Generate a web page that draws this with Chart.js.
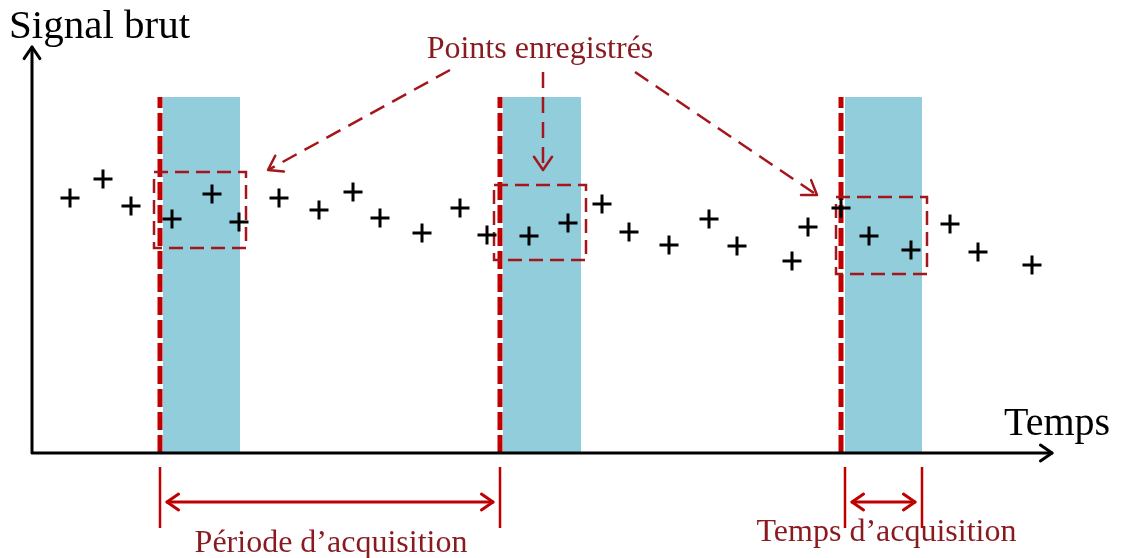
<!DOCTYPE html>
<html>
<head>
<meta charset="utf-8">
<script src="https://cdn.jsdelivr.net/npm/chart.js@4.4.1/dist/chart.umd.min.js"></script>
<style>
  body { margin: 0; background: #fff; }
  canvas { display: block; }
</style>
</head>
<body>
<canvas id="myChart" width="1121" height="558"></canvas>
<script>
// recorded samples (time, raw signal)
var times  = [38, 71, 99, 140, 180, 207, 247, 287, 321, 348, 390, 428, 455, 497, 536, 570, 597, 637, 677, 705, 760, 776, 809, 837, 879, 918, 946, 1000]
var signal = [255, 274, 247, 234, 259, 231, 255, 243, 261, 235, 220, 245, 218, 217, 230, 249, 221, 208, 234, 207, 192, 226, 245, 217, 203, 229, 201, 188]

// acquisition windows
var bandStart = [131, 471, 813]
var bandEnd   = [208, 549, 890]
var bandTop   = 356
var triggerX  = [128, 468, 809]

// dashed boxes round the recorded points
var boxLeft   = [122, 462, 804]
var boxRight  = [214, 554, 895]
var boxBottom = [205, 193, 179]
var boxTop    = [281, 268, 256]

// "Points enregistrés" arrows
var arrowFromX = [418, 511, 603]
var arrowFromY = [383, 381, 381]
var arrowToX   = [236, 511, 785]
var arrowToY   = [283, 283, 258]

// spans under the time axis
var periodSpan = [triggerX[0], triggerX[1]]
var acqSpan    = [bandStart[2], bandEnd[2]]
var spanY = -49
var spanTickTop = -14
var spanTickBottom = -75

var darkRed = "#a3161c"
var lineRed = "#c00000"
var textRed = "#891a1f"

var datasets = []
datasets.push({
    label: "points",
    data: times.map(function(t, i){ return {x: t, y: signal[i]} }),
    pointStyle: "cross",
    pointRadius: 9.5,
    pointBorderWidth: 3,
    pointBorderColor: "#000",
    pointBackgroundColor: "#000",
    showLine: false,
    order: 0
})
for (i = 0; i < triggerX.length; i++){
    datasets.push({
        label: "trigger" + i,
        data: [{x: triggerX[i], y: 0}, {x: triggerX[i], y: bandTop}],
        showLine: true,
        borderColor: lineRed,
        borderWidth: 5,
        borderDash: [18, 5],
        pointRadius: 0,
        order: 2
    })
}
for (i = 0; i < boxLeft.length; i++){
    datasets.push({
        label: "box" + i,
        data: [{x: boxLeft[i], y: boxTop[i]}, {x: boxRight[i], y: boxTop[i]}, {x: boxRight[i], y: boxBottom[i]},
               {x: boxLeft[i], y: boxBottom[i]}, {x: boxLeft[i], y: boxTop[i]}],
        showLine: true,
        borderColor: darkRed,
        borderWidth: 2.5,
        borderDash: [14, 7],
        pointRadius: 0,
        tension: 0,
        order: 1
    })
}
for (i = 0; i < arrowFromX.length; i++){
    datasets.push({
        label: "arrow" + i,
        data: [{x: arrowFromX[i], y: arrowFromY[i]}, {x: arrowToX[i], y: arrowToY[i]}],
        showLine: true,
        borderColor: darkRed,
        borderWidth: 2.5,
        borderDash: [16, 9],
        pointRadius: 0,
        order: 1
    })
}

function chevron(ctx, x0, y0, x1, y1, len){
    var a = Math.atan2(y1 - y0, x1 - x0)
    ctx.beginPath()
    ctx.moveTo(x1 - len * Math.cos(a - 0.6), y1 - len * Math.sin(a - 0.6))
    ctx.lineTo(x1, y1)
    ctx.lineTo(x1 - len * Math.cos(a + 0.6), y1 - len * Math.sin(a + 0.6))
    ctx.stroke()
}

var sketch = {
    id: "sketch",
    beforeDatasetsDraw: function(chart){
        var ctx = chart.ctx, xs = chart.scales.x, ys = chart.scales.y
        ctx.save()
        ctx.fillStyle = "#92cddc"
        for (var i = 0; i < bandStart.length; i++){
            var l = xs.getPixelForValue(bandStart[i]), r = xs.getPixelForValue(bandEnd[i])
            var t = ys.getPixelForValue(bandTop), b = ys.getPixelForValue(0)
            ctx.fillRect(l, t, r - l, b - t)
        }
        ctx.restore()
    },
    afterDatasetsDraw: function(chart){
        var ctx = chart.ctx, xs = chart.scales.x, ys = chart.scales.y
        var a = chart.chartArea
        ctx.save()
        ctx.lineCap = "round"
        ctx.lineJoin = "round"
        // axes
        ctx.strokeStyle = "#000"
        ctx.lineWidth = 3
        ctx.beginPath()
        ctx.moveTo(a.left, a.bottom)
        ctx.lineTo(a.left, a.top)
        ctx.moveTo(a.left, a.bottom)
        ctx.lineTo(a.right, a.bottom)
        ctx.stroke()
        chevron(ctx, a.left, a.bottom, a.left, a.top, 14)
        chevron(ctx, a.left, a.bottom, a.right, a.bottom, 14)

        // arrow heads of the dashed arrows
        ctx.strokeStyle = darkRed
        ctx.lineWidth = 2.5
        for (var i = 0; i < arrowFromX.length; i++){
            chevron(ctx, xs.getPixelForValue(arrowFromX[i]), ys.getPixelForValue(arrowFromY[i]),
                    xs.getPixelForValue(arrowToX[i]), ys.getPixelForValue(arrowToY[i]), 16)
        }

        // spans under the axis
        var top = ys.getPixelForValue(spanTickTop), bot = ys.getPixelForValue(spanTickBottom)
        var sy = ys.getPixelForValue(spanY)
        var spans = [periodSpan, acqSpan]
        ctx.strokeStyle = lineRed
        for (var s = 0; s < spans.length; s++){
            var x0 = xs.getPixelForValue(spans[s][0]), x1 = xs.getPixelForValue(spans[s][1])
            ctx.lineWidth = 2.5
            ctx.lineCap = "butt"
            ctx.beginPath()
            ctx.moveTo(x0, top); ctx.lineTo(x0, bot)
            ctx.moveTo(x1, top); ctx.lineTo(x1, bot)
            ctx.stroke()
            ctx.lineCap = "round"
            ctx.lineWidth = 3
            ctx.beginPath()
            ctx.moveTo(x0 + 7, sy); ctx.lineTo(x1 - 7, sy)
            ctx.stroke()
            chevron(ctx, x1, sy, x0 + 7, sy, 14)
            chevron(ctx, x0, sy, x1 - 7, sy, 14)
        }

        // texts
        ctx.textBaseline = "alphabetic"
        ctx.fillStyle = "#000"
        ctx.font = '41px "Liberation Serif"'
        ctx.textAlign = "left"
        ctx.fillText("Signal brut", 9, 38)
        ctx.font = '40px "Liberation Serif"'
        ctx.fillText("Temps", 1004, 435)
        ctx.fillStyle = textRed
        ctx.font = '32px "Liberation Serif"'
        ctx.textAlign = "center"
        ctx.fillText("Points enregistrés", xs.getPixelForValue(508), 58)
        ctx.fillText("Période d\u2019acquisition", (xs.getPixelForValue(periodSpan[0]) + xs.getPixelForValue(periodSpan[1])) / 2 + 1, 552)
        ctx.fillText("Temps d\u2019acquisition", (xs.getPixelForValue(acqSpan[0]) + xs.getPixelForValue(acqSpan[1])) / 2 + 3, 541)
        ctx.restore()
    }
}

var ctx = document.getElementById("myChart")
var myChart = new Chart(ctx, {
    type: "scatter",
    data: { datasets: datasets },
    options: {
        responsive: false,
        animation: false,
        clip: false,
        layout: {
            padding: { left: 32, right: 69, top: 47, bottom: 105 }
        },
        scales: {
            x: { type: "linear", min: 0, max: 1020, display: false },
            y: { type: "linear", min: 0, max: 406, display: false }
        },
        plugins: {
            legend: { display: false },
            tooltip: { enabled: false }
        }
    },
    plugins: [sketch]
})
</script>
</body>
</html>
